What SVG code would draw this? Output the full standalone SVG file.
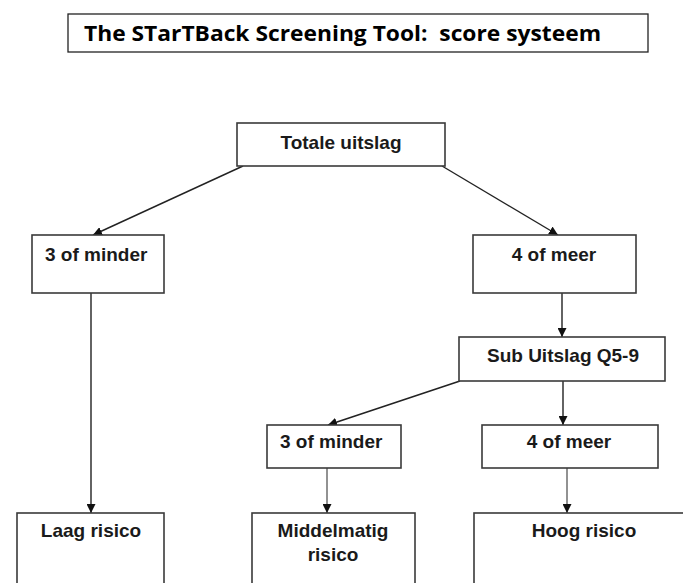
<svg xmlns="http://www.w3.org/2000/svg" width="683" height="583" viewBox="0 0 683 583">
<defs>
<marker id="ah" viewBox="0 0 10 10" refX="10" refY="5" markerWidth="9" markerHeight="9" markerUnits="userSpaceOnUse" orient="auto">
<path d="M0,0 L10,5 L0,10 z" fill="#111"/>
</marker>
</defs>
<style>
.box{fill:#fff;stroke:#3a3a3a;stroke-width:1.6}
.t{font-family:"Liberation Sans",Arial,sans-serif;font-weight:bold;font-size:19px;fill:#1a1a1a}
.c{stroke:#222;stroke-width:1.4;fill:none;marker-end:url(#ah)}
.g{stroke:#777;stroke-width:1.6;fill:none;marker-end:url(#ah)}
.title{font-family:"Open Sans","Liberation Sans",sans-serif;font-weight:bold;font-size:21px;fill:#000;white-space:pre}
</style>
<rect width="683" height="583" fill="#fff"/>
<g id="title">
<rect x="68" y="14" width="580" height="38" fill="#fff" stroke="#222" stroke-width="1.3"/>
<text class="title" x="84" y="41" textLength="517" lengthAdjust="spacingAndGlyphs" xml:space="preserve">The STarTBack Screening Tool:  score systeem</text>
</g>
<g id="connectors">
<line class="c" x1="243" y1="166" x2="93" y2="235"/>
<line class="c" x1="442" y1="166" x2="558" y2="235"/>
<line class="c" x1="91" y1="293" x2="91" y2="513"/>
<line class="c" x1="562" y1="293" x2="562" y2="337"/>
<line class="c" x1="460" y1="381" x2="328" y2="425"/>
<line class="c" x1="563" y1="381" x2="563" y2="425"/>
<line class="g" x1="327" y1="468" x2="327" y2="513"/>
<line class="g" x1="567" y1="468" x2="567" y2="513"/>
</g>
<g id="totale">
<rect class="box" x="237" y="123" width="208" height="43"/>
<text class="t" x="341" y="149" text-anchor="middle">Totale uitslag</text>
</g>
<g id="links3">
<rect class="box" x="32" y="235" width="132" height="58"/>
<text class="t" x="45" y="261">3 of minder</text>
</g>
<g id="rechts4">
<rect class="box" x="473" y="235" width="163" height="58"/>
<text class="t" x="554" y="261" text-anchor="middle">4 of meer</text>
</g>
<g id="sub">
<rect class="box" x="459" y="337" width="206" height="44"/>
<text class="t" x="563" y="362" text-anchor="middle">Sub Uitslag Q5-9</text>
</g>
<g id="sub3">
<rect class="box" x="267" y="425" width="134" height="43"/>
<text class="t" x="280" y="448">3 of minder</text>
</g>
<g id="sub4">
<rect class="box" x="482" y="425" width="176" height="43"/>
<text class="t" x="569" y="448" text-anchor="middle">4 of meer</text>
</g>
<g id="laag">
<rect class="box" x="17" y="513" width="147" height="80"/>
<text class="t" x="91" y="537" text-anchor="middle">Laag risico</text>
</g>
<g id="middel">
<rect class="box" x="252" y="513" width="163" height="80"/>
<text class="t" x="333" y="537" text-anchor="middle">Middelmatig</text>
<text class="t" x="333" y="561" text-anchor="middle">risico</text>
</g>
<g id="hoog">
<rect class="box" x="474" y="513" width="220" height="80"/>
<text class="t" x="584" y="537" text-anchor="middle">Hoog risico</text>
</g>
</svg>
